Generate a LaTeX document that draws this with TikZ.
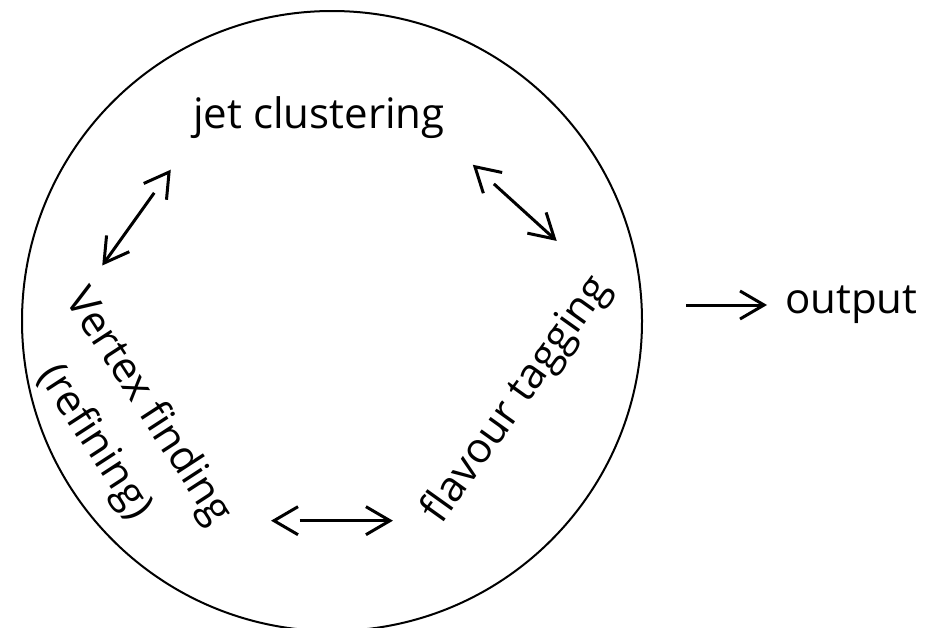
\documentclass[tikz,border=0pt]{standalone}
\usepackage{fontspec}
\setmainfont{Open Sans}
\usetikzlibrary{arrows.meta,positioning}

\begin{document}
\begin{tikzpicture}[
  x=1pt, y=-1pt,
  every node/.style={font=\fontsize{42}{64}\selectfont},
  stage/.style={align=center, inner sep=2pt},
  ring/.style={circle, draw, line width=2pt, minimum size=620pt, inner sep=0pt},
  link/.style={{Straight Barb[length=24pt,width=28pt].}-{Straight Barb[length=24pt,width=28pt].},
    line width=3pt},
  flow/.style={-{Straight Barb[length=24pt,width=28pt].}, line width=3pt},
]
\useasboundingbox (0,0) rectangle (936,627);

% the loop
\node[ring] (loop) at (332,321) {};

% stages
\node[stage] (jet) at (319,118) {jet clustering};
\node[stage, rotate=54.5] (flav) at (517,400) {flavour tagging};
\node[stage, rotate=-57] (vtx) at (121,425) {Vertex finding\\(refining)};

% output
\node[stage, anchor=west] (out) at (783,305) {output};

% arrows
\draw[link, shorten <=35pt, shorten >=17pt] (jet.south west) -- (vtx.north west);
\draw[link, shorten <=35pt, shorten >=37pt] (jet.south east) -- (flav.north east);
\draw[link, shorten <=75pt, shorten >=38pt] (vtx.east |- flav.west) -- (flav.west);
\draw[flow, shorten <=43pt, shorten >=16pt] (loop.east |- out.west) -- (out.west);
\end{tikzpicture}
\end{document}
